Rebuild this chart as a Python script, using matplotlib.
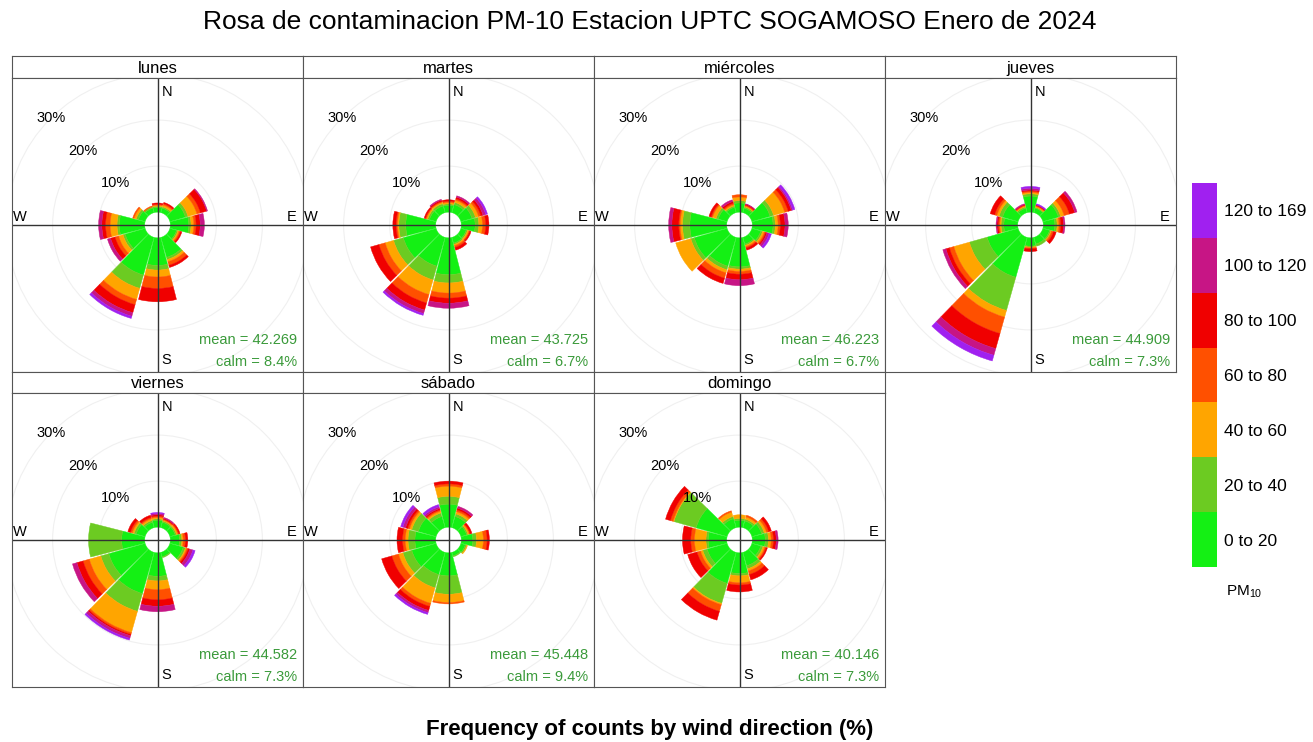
import matplotlib
matplotlib.use("Agg")
import matplotlib.pyplot as plt
from matplotlib.patches import Wedge, Circle
import numpy as np

plt.rcParams['font.family'] = ['Liberation Sans', 'DejaVu Sans']

# --- data ---
days = ["lunes", "martes", "miércoles", "jueves", "viernes", "sábado", "domingo"]
directions = [0, 30, 60, 90, 120, 150, 180, 210, 240, 270, 300, 330]
bin_labels = ["0 to 20", "20 to 40", "40 to 60", "60 to 80", "80 to 100", "100 to 120", "120 to 169"]
bin_colors = ["#14F014", "#6CCB22", "#FFA500", "#FF5000", "#F00000", "#C71585", "#A020F0"]

# frequency (%) of each PM10 band, one row per wind direction
lunes = [[1.0, 0.3, 0.2, 0.2, 0.3, 0.0, 0.0],
         [1.0, 0.3, 0.4, 0.3, 0.3, 0.0, 0.0],
         [3.5, 0.6, 2.0, 0.8, 1.4, 0.2, 0.0],
         [4.0, 0.5, 0.6, 0.5, 0.9, 0.9, 0.0],
         [1.5, 0.3, 0.3, 0.3, 0.3, 0.0, 0.0],
         [4.5, 0.5, 0.5, 0.8, 0.5, 0.0, 0.0],
         [6.0, 1.0, 1.5, 2.5, 2.9, 0.0, 0.0],
         [8.5, 3.0, 2.5, 1.2, 1.8, 0.8, 0.5],
         [4.5, 0.5, 1.0, 0.8, 1.0, 0.7, 0.0],
         [5.5, 0.5, 1.5, 1.0, 0.8, 0.7, 0.0],
         [1.5, 0.5, 0.5, 0.3, 0.0, 0.0, 0.0],
         [1.0, 0.3, 0.0, 0.2, 0.0, 0.0, 0.0]]
martes = [[1.5, 0.3, 0.3, 0.3, 0.3, 0.0, 0.0],
          [1.8, 0.5, 0.5, 0.3, 0.4, 0.3, 0.0],
          [2.5, 0.8, 0.7, 0.5, 0.5, 0.6, 0.4],
          [3.0, 0.8, 0.8, 0.7, 0.7, 0.0, 0.0],
          [1.2, 0.3, 0.3, 0.2, 0.3, 0.0, 0.0],
          [1.3, 0.3, 0.3, 0.4, 0.6, 0.0, 0.0],
          [8.0, 1.8, 2.2, 1.1, 1.1, 1.1, 0.0],
          [6.5, 3.1, 3.3, 1.9, 1.6, 0.8, 0.4],
          [7.4, 2.2, 1.9, 1.4, 1.9, 0.0, 0.0],
          [6.5, 1.5, 0.3, 0.3, 0.7, 0.0, 0.0],
          [1.5, 0.4, 0.3, 0.2, 0.3, 0.0, 0.0],
          [1.5, 0.5, 0.3, 0.2, 0.3, 0.2, 0.0]]
miercoles = [[2.0, 0.5, 0.8, 0.5, 0.0, 0.0, 0.0],
             [1.0, 0.3, 0.2, 0.2, 0.2, 0.1, 0.0],
             [4.1, 0.8, 2.5, 0.8, 0.7, 0.3, 0.5],
             [4.5, 0.5, 0.6, 0.5, 1.0, 0.7, 0.0],
             [2.0, 0.4, 0.4, 0.3, 0.3, 0.5, 0.5],
             [1.5, 0.3, 0.3, 0.3, 0.5, 0.0, 0.0],
             [6.3, 0.5, 0.5, 0.6, 1.2, 1.3, 0.0],
             [6.5, 0.8, 0.7, 1.2, 1.2, 0.0, 0.0],
             [7.4, 0.8, 3.4, 0.0, 0.0, 0.0, 0.0],
             [8.0, 1.6, 0.5, 0.3, 1.5, 0.7, 0.0],
             [2.0, 0.5, 0.8, 0.3, 0.5, 0.0, 0.0],
             [1.2, 0.3, 0.3, 0.3, 0.4, 0.4, 0.0]]
jueves = [[3.5, 0.5, 0.3, 0.3, 0.2, 0.4, 0.4],
          [1.0, 0.2, 0.2, 0.2, 0.1, 0.1, 0.2],
          [3.5, 0.5, 0.8, 1.2, 1.2, 0.5, 0.0],
          [2.5, 0.5, 0.4, 0.4, 0.6, 0.3, 0.0],
          [1.5, 0.3, 0.2, 0.4, 0.6, 0.0, 0.0],
          [1.5, 0.5, 0.0, 0.0, 0.0, 0.0, 0.0],
          [1.8, 0.2, 0.2, 0.2, 0.6, 0.0, 0.0],
          [9.0, 7.5, 1.5, 3.7, 3.4, 1.5, 1.3],
          [7.0, 4.0, 3.5, 1.0, 0.8, 0.7, 0.0],
          [3.0, 0.6, 0.3, 0.3, 0.3, 0.2, 0.0],
          [3.5, 0.8, 0.5, 0.5, 1.0, 0.0, 0.0],
          [1.0, 0.3, 0.2, 0.2, 0.1, 0.2, 0.0]]
viernes = [[1.5, 0.3, 0.3, 0.3, 0.3, 0.3, 0.2],
           [1.2, 0.3, 0.2, 0.2, 0.2, 0.2, 0.0],
           [1.2, 0.3, 0.3, 0.2, 0.3, 0.0, 0.0],
           [2.0, 0.5, 0.3, 0.5, 0.5, 0.0, 0.0],
           [3.0, 0.5, 0.3, 0.3, 0.4, 0.7, 0.5],
           [1.0, 0.2, 0.0, 0.0, 0.0, 0.0, 0.0],
           [5.1, 1.0, 1.9, 2.2, 1.4, 1.2, 0.0],
           [9.3, 4.0, 4.8, 0.4, 0.3, 0.6, 0.4],
           [8.2, 1.8, 2.6, 1.4, 1.4, 1.0, 0.0],
           [5.0, 7.2, 0.0, 0.0, 0.0, 0.0, 0.0],
           [2.0, 0.5, 0.4, 0.4, 0.6, 0.0, 0.0],
           [1.2, 0.4, 0.4, 0.3, 0.5, 0.0, 0.0]]
sabado = [[5.0, 1.7, 2.2, 0.5, 0.6, 0.0, 0.0],
          [2.5, 0.6, 0.5, 0.4, 0.4, 0.4, 0.0],
          [1.3, 0.3, 0.3, 0.2, 0.4, 0.0, 0.0],
          [2.5, 0.8, 1.5, 0.8, 0.5, 0.0, 0.0],
          [1.0, 0.3, 0.2, 0.0, 0.0, 0.0, 0.0],
          [0.8, 0.2, 0.0, 0.0, 0.0, 0.0, 0.0],
          [5.0, 4.0, 1.8, 0.3, 0.0, 0.0, 0.0],
          [5.0, 3.0, 3.5, 0.7, 0.9, 0.5, 0.4],
          [5.5, 2.0, 1.0, 1.5, 2.3, 0.0, 0.0],
          [4.5, 1.5, 0.6, 0.6, 1.2, 0.0, 0.0],
          [4.0, 1.5, 0.5, 0.4, 0.5, 0.6, 0.5],
          [2.5, 0.8, 0.4, 0.3, 0.3, 0.4, 0.5]]
domingo = [[1.5, 0.4, 0.8, 0.0, 0.0, 0.0, 0.0],
           [1.5, 0.4, 0.5, 0.4, 0.0, 0.0, 0.0],
           [2.2, 0.6, 0.5, 0.5, 0.6, 0.0, 0.0],
           [2.8, 0.7, 0.6, 0.5, 0.6, 0.4, 0.0],
           [2.0, 0.5, 0.4, 0.3, 0.3, 0.0, 0.0],
           [3.0, 0.7, 0.5, 0.8, 1.2, 0.0, 0.0],
           [4.5, 0.5, 1.5, 0.5, 1.5, 0.0, 0.0],
           [7.0, 4.5, 0.3, 1.5, 2.0, 0.0, 0.0],
           [4.5, 1.0, 0.5, 0.8, 2.1, 0.0, 0.0],
           [4.0, 0.5, 2.5, 0.8, 1.8, 0.0, 0.0],
           [7.0, 5.0, 0.2, 0.6, 1.1, 0.0, 0.0],
           [2.0, 0.5, 1.0, 0.3, 0.0, 0.0, 0.0]]

panels = [lunes, martes, miercoles, jueves, viernes, sabado, domingo]
means = [42.269, 43.725, 46.223, 44.909, 44.582, 45.448, 40.146]
calms = [8.4, 6.7, 6.7, 7.3, 7.3, 9.4, 7.3]
grid_levels = [10, 20, 30]

# --- layout (pixels) ---
W, H = 1313, 742
fig = plt.figure(figsize=(W / 100, H / 100), dpi=100)


def rect(x0, y0, x1, y1):
    return [x0 / W, 1 - y1 / H, (x1 - x0) / W, (y1 - y0) / H]


col_x = [12, 303, 594, 885, 1176]
rows = [(56, 78, 372), (372, 393, 687)]
edge = "#555555"

max_freq = max(np.sum(p, axis=1).max() for p in panels)
off = max_freq * 0.1
lim = 1.03 * (max_freq + off)
half = 15 - 0.7

for i, (day, data) in enumerate(zip(days, panels)):
    r, c = divmod(i, 4)
    x0, x1 = col_x[c], col_x[c + 1]
    st, sb, pb = rows[r]

    # strip
    sax = fig.add_axes(rect(x0, st, x1, sb))
    sax.set_xticks([])
    sax.set_yticks([])
    for s in sax.spines.values():
        s.set_color(edge)
    sax.text(0.5, 0.45, day, ha="center", va="center", fontsize=12, transform=sax.transAxes)

    ax = fig.add_axes(rect(x0, sb, x1, pb))
    ylim = lim * (pb - sb) / (x1 - x0)
    ax.set_xlim(-lim, lim)
    ax.set_ylim(-ylim, ylim)
    ax.set_xticks([])
    ax.set_yticks([])
    for s in ax.spines.values():
        s.set_color(edge)

    for v in grid_levels:
        ax.add_patch(Circle((0, 0), v + off, fill=False, ec="#f0f0f0", lw=0.8))

    for d, bands in zip(directions, data):
        lower = off
        for k, val in enumerate(bands):
            if val <= 0:
                continue
            ax.add_patch(Wedge((0, 0), lower + val, 90 - d - half, 90 - d + half,
                               width=val, fc=bin_colors[k], ec=bin_colors[k], lw=0.3))
            lower += val

    ax.axhline(0, color="#333333", lw=1.0)
    ax.axvline(0, color="#333333", lw=1.0)

    for v in grid_levels:
        rr = v + off
        ax.text(-rr * np.sin(np.pi / 4), rr * np.cos(np.pi / 4), f"{v}%",
                ha="center", va="center", fontsize=10.5)

    ax.text(0.533, 0.952, "N", ha="center", va="center", fontsize=10.5, transform=ax.transAxes)
    ax.text(0.529, 0.041, "S", ha="center", va="center", fontsize=10.5, transform=ax.transAxes)
    ax.text(0.027, 0.527, "W", ha="center", va="center", fontsize=10.5, transform=ax.transAxes)
    ax.text(0.962, 0.527, "E", ha="center", va="center", fontsize=10.5, transform=ax.transAxes)

    ax.text(0.979, 0.109, f"mean = {means[i]:.3f}", ha="right", va="center",
            fontsize=10.5, color="#3a9a3a", transform=ax.transAxes)
    ax.text(0.979, 0.034, f"calm = {calms[i]:.1f}%", ha="right", va="center",
            fontsize=10.5, color="#3a9a3a", transform=ax.transAxes)

# legend / colour key
lax = fig.add_axes(rect(1192, 183, 1217, 567))
lax.bar(np.zeros(len(bin_labels)), np.ones(len(bin_labels)), bottom=np.arange(len(bin_labels)),
        width=1.0, color=bin_colors, align="center")
lax.set_xlim(-0.5, 0.5)
lax.set_ylim(0, len(bin_labels))
lax.set_xticks([])
lax.yaxis.tick_right()
lax.set_yticks(np.arange(len(bin_labels)) + 0.5)
lax.set_yticklabels(bin_labels, fontsize=12.5)
lax.tick_params(axis="y", length=0, pad=5)
for s in lax.spines.values():
    s.set_visible(False)
fig.text(1226 / W, 1 - 592 / H, r"PM$_{\mathregular{10}}$", ha="left", va="center", fontsize=11)

fig.text(650 / W, 1 - 22 / H, "Rosa de contaminacion PM-10 Estacion UPTC SOGAMOSO Enero de 2024",
         ha="center", va="center", fontsize=19)
fig.text(650 / W, 1 - 729 / H, "Frequency of counts by wind direction (%)",
         ha="center", va="center", fontsize=16, fontweight="bold")

fig.savefig("out.png", dpi=100)
